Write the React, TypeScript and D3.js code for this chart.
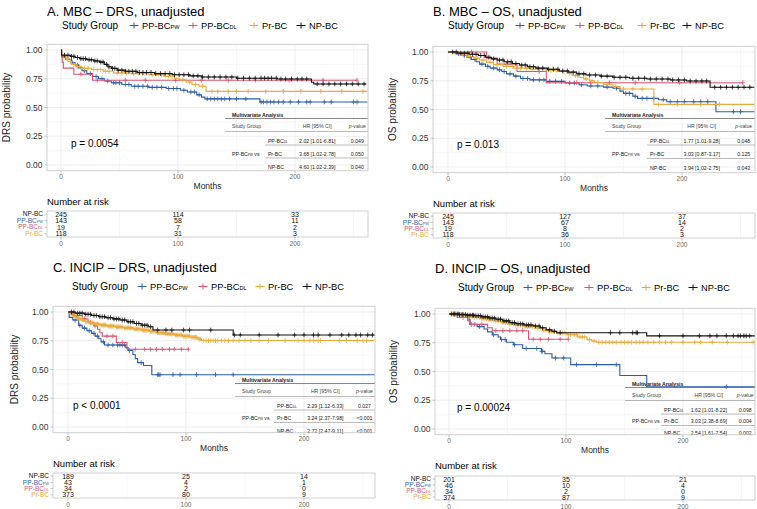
import React from "react";
import * as d3 from "d3";

const FONT = "'Liberation Sans', Arial, Helvetica, sans-serif";

// ---- groups ----
const GROUP_BASE = ["PP-BC", "PP-BC", "Pr-BC", "NP-BC"];
const GROUP_SUB = ["PW", "DL", "", ""];
const GROUP_COLORS = ["#2b5ca8", "#d9536f", "#e9a93c", "#111111"];
const RISK_ORDER = [3, 0, 1, 2];
const LEGEND_TITLE = "Study Group";

const X_TICKS = [0, 100, 200];
const X_MINOR = [50, 150, 250];
const Y_TICKS = [0, 0.25, 0.5, 0.75, 1];
const Y_MINOR = [0.125, 0.375, 0.625, 0.875];

// ---- Panel A: MBC DRS ----
const A_PW_STEPS = [[0,1],[0.5,0.94],[4,0.92],[9,0.89],[12,0.87],[15,0.845],[18,0.82],[22,0.795],[27,0.77],[32,0.75],[37,0.73],[43,0.715],[52,0.70],[60,0.685],[75,0.675],[90,0.665],[102,0.65],[108,0.635],[116,0.61],[120,0.59],[123,0.575],[170,0.548]];
const A_PW_CENS = [10,14,20,25,30,35,40,45,47,50,55,58,63,66,70,74,78,82,86,92,96,99,105,111,114,118,125,128,131,134,137,140,144,150,158,171,173,176,179,182,186,190,196,203,210,213,225,231,250,253];
const A_DL_STEPS = [[0,1],[0.5,0.947],[1,0.895],[2,0.842],[11,0.789],[27,0.737]];
const A_DL_CENS = [17,31,55,72,98,120,143,166,195,224,253];
const A_PR_STEPS = [[0,1],[0.5,0.96],[3,0.93],[6,0.90],[9,0.875],[13,0.855],[18,0.84],[26,0.83],[36,0.815],[45,0.80],[60,0.795],[75,0.785],[88,0.77],[97,0.755],[101,0.74],[107,0.72],[112,0.70],[118,0.685],[124,0.64]];
const A_PR_CENS = [5,8,11,14,16,20,23,28,31,34,38,41,48,52,56,62,66,70,78,83,86,92,95,104,110,115,121,129,134,143,150,160,175,190,205,222,240,258];
const A_NP_STEPS = [[0,1],[0.5,0.955],[8,0.945],[12,0.935],[16,0.925],[22,0.915],[28,0.905],[33,0.895],[37,0.875],[40,0.855],[43,0.84],[48,0.825],[55,0.815],[65,0.805],[80,0.795],[95,0.785],[110,0.775],[120,0.765],[150,0.755],[185,0.748],[214,0.72],[216,0.705]];
const A_NP_CENS = [3,6,9,11,14,17,19,21,24,26,29,31,34,36,39,41,44,46,49,52,55,58,61,64,67,70,73,77,81,85,89,93,97,101,105,109,113,117,121,126,131,136,141,146,151,156,161,166,171,174,177,180,184,188,192,197,202,206,210,219,224,229,234,239,244,249,254,259];
const A_ENDS = [262, 253, 262, 261];
const A_RISK = [[143,58,11],[19,7,2],[118,31,3],[245,114,33]];
const A_HR = ["2.02 [1.01-6.81]", "3.68 [1.02-2.78]", "4.60 [1.02-2.39]"];
const A_HR_P = ["0.049", "0.050", "0.040"];

// ---- Panel B: MBC OS ----
const B_PW_STEPS = [[0,1],[6,0.985],[12,0.97],[16,0.955],[20,0.935],[24,0.915],[27,0.895],[32,0.875],[36,0.86],[42,0.845],[46,0.83],[50,0.81],[56,0.79],[62,0.77],[70,0.758],[84,0.745],[100,0.73],[112,0.715],[119,0.705],[133,0.695],[141,0.685],[147,0.66],[150,0.64],[158,0.615],[162,0.597],[180,0.585],[187,0.568],[229,0.48]];
const B_PW_CENS = [9,14,19,23,29,34,39,44,48,53,58,64,68,73,78,82,87,92,97,104,108,114,122,128,136,144,152,155,160,166,170,176,184,190,196,202,210,216,222,244,250];
const B_DL_STEPS = [[0,1],[33,0.947],[42,0.895],[59,0.83],[84,0.733]];
const B_DL_CENS = [20,50,78,110,122,138,160,198,252];
const B_PR_STEPS = [[0,1],[5,0.99],[10,0.975],[16,0.96],[22,0.945],[27,0.93],[33,0.91],[39,0.89],[47,0.875],[56,0.86],[70,0.85],[84,0.84],[95,0.83],[102,0.815],[106,0.795],[111,0.78],[116,0.765],[121,0.75],[125,0.735],[133,0.715],[141,0.70],[147,0.678],[176,0.545]];
const B_PR_CENS = [8,13,18,25,30,36,42,50,55,62,67,72,78,88,93,99,104,109,118,123,128,136,143,150,158,166,180,196,216,232];
const B_NP_STEPS = [[0,1],[8,0.99],[18,0.98],[26,0.97],[32,0.955],[37,0.94],[42,0.93],[48,0.915],[55,0.90],[61,0.887],[68,0.872],[75,0.86],[85,0.85],[95,0.835],[103,0.825],[110,0.81],[118,0.80],[130,0.79],[141,0.78],[155,0.772],[170,0.765],[190,0.757],[204,0.748],[224,0.693]];
const B_NP_CENS = [4,7,11,14,17,21,24,28,31,35,39,44,47,51,54,58,63,66,70,73,77,81,86,90,94,98,102,107,112,116,121,126,131,136,142,147,152,158,163,168,173,178,183,188,192,197,202,207,212,217,221,228,233,238,243,248,253,258];
const B_ENDS = [262, 252, 262, 262];
const B_RISK = [[143,67,14],[19,8,2],[118,36,3],[245,127,37]];
const B_HR = ["1.77 [1.01-9.28]", "3.03 [0.87-3.17]", "3.94 [1.02-2.75]"];
const B_HR_P = ["0.048", "0.125", "0.043"];

// ---- Panel C: INCIP DRS ----
const C_PW_STEPS = [[0,1],[1,0.953],[4,0.93],[9,0.884],[12,0.86],[16,0.837],[20,0.814],[23,0.79],[26,0.767],[28,0.74],[31,0.713],[49,0.69],[51,0.665],[55,0.63],[57,0.595],[59,0.56],[64,0.535],[71,0.455]];
const C_PW_CENS = [6,10,14,18,22,25,30,34,38,42,44,46,48,52,62,76,77,78,89,95,109,125,140];
const C_DL_STEPS = [[0,1],[4,0.97],[12,0.94],[17,0.91],[22,0.88],[25,0.85],[27,0.82],[29,0.79],[41,0.735],[50,0.676]];
const C_DL_CENS = [14,19,23,33,38,46,57,65,70,75,80,86,90,96,102];
const C_PR_STEPS = [[0,1],[1,0.99],[3,0.975],[5,0.96],[8,0.945],[11,0.93],[14,0.917],[18,0.905],[22,0.895],[27,0.887],[33,0.878],[40,0.87],[47,0.862],[55,0.852],[62,0.842],[69,0.832],[75,0.82],[82,0.81],[90,0.80],[97,0.79],[104,0.78],[110,0.765],[113,0.752]];
const C_PR_CENS = [2,4,6,7,9,10,12,13,15,16,17,19,20,21,23,24,25,26,28,29,30,31,32,34,35,36,37,38,39,41,42,43,44,45,46,48,49,50,51,52,53,54,56,57,58,59,60,61,63,64,65,66,67,68,70,71,72,73,74,76,77,78,79,80,81,83,84,85,86,87,88,89,91,92,93,94,95,96,98,99,100,101,102,103,105,106,107,108,109,111,112,115,117,119,121,123,125,127,130,133,136,140,145,150,155,162,170,184,195,200,205,208,212,214,230,236,245,250,253];
const C_NP_STEPS = [[0,1],[6,0.99],[14,0.98],[20,0.97],[26,0.96],[32,0.95],[38,0.94],[44,0.93],[50,0.915],[56,0.90],[62,0.885],[68,0.872],[72,0.843],[140,0.80]];
const C_NP_CENS = [3,5,8,10,12,15,17,19,22,24,27,29,31,34,36,39,41,43,46,48,51,53,55,58,60,63,65,67,70,76,83,88,98,103,121,141,146,162,178,192,200,208,212,222,232,238,244,248,254,258];
const C_ENDS = [262, 102, 262, 260];
const C_RISK = [[43,4,1],[34,2,0],[373,80,9],[189,25,14]];
const C_HR = ["2.29 [1.12-6.33]", "3.24 [2.37-7.98]", "2.72 [2.47-9.11]"];
const C_HR_P = ["0.027", "<0.001", "<0.001"];

// ---- Panel D: INCIP OS ----
const D_PW_STEPS = [[0,1],[15,0.978],[17,0.955],[18,0.91],[24,0.89],[30,0.87],[33,0.845],[37,0.82],[42,0.80],[44,0.778],[49,0.755],[55,0.733],[63,0.70],[79,0.676],[82,0.655],[88,0.617],[104,0.56],[146,0.465],[169,0.368]];
const D_PW_CENS = [8,19,26,38,45,48,56,66,75,79,80,91,98,109,126,143,237];
const D_DL_STEPS = [[0,1],[7,0.97],[16,0.94],[18,0.91],[33,0.88],[37,0.855],[68,0.78]];
const D_DL_CENS = [5,12,22,28,40,46,52,58,63,72,78,85,95,102];
const D_PR_STEPS = [[0,1],[6,0.995],[12,0.99],[17,0.98],[22,0.97],[27,0.96],[33,0.95],[39,0.94],[45,0.925],[51,0.912],[57,0.9],[65,0.89],[74,0.878],[80,0.86],[85,0.845],[92,0.835],[101,0.82],[110,0.80],[118,0.777],[122,0.765],[126,0.755]];
const D_PR_CENS = [3,5,7,9,10,12,14,15,17,19,20,22,24,26,28,30,32,34,36,38,40,42,44,46,48,50,52,55,57,59,61,63,65,67,69,71,73,76,78,81,83,86,88,90,93,95,97,99,102,104,107,109,112,114,116,120,124,128,131,134,137,140,143,147,150,153,156,160,163,166,170,175,180,185,190,200,210,215,225,238,260];
const D_NP_STEPS = [[0,1],[8,0.995],[15,0.99],[22,0.985],[28,0.975],[34,0.965],[40,0.955],[46,0.94],[52,0.925],[57,0.915],[64,0.905],[72,0.896],[78,0.88],[83,0.862],[88,0.85],[92,0.837],[169,0.81]];
const D_NP_CENS = [2,4,5,7,9,11,12,14,16,18,20,21,23,25,27,29,31,33,35,37,39,42,44,47,49,51,54,56,59,61,63,66,68,70,74,77,80,86,90,95,138,146,157,160,161,180,200,214,223,229,237,243,247,249,252,254,257];
const D_ENDS = [262, 102, 262, 262];
const D_RISK = [[46,10,4],[34,2,0],[374,87,9],[201,35,21]];
const D_HR = ["1.62 [1.01-8.22]", "3.03 [2.38-8.69]", "2.54 [1.61-7.54]"];
const D_HR_P = ["0.098", "0.004", "0.002"];

const PANELS = [
  {
    title: "A. MBC \u2013 DRS, unadjusted", yTitle: "DRS probability", pText: "p = 0.0054",
    steps: [A_PW_STEPS, A_DL_STEPS, A_PR_STEPS, A_NP_STEPS],
    cens: [A_PW_CENS, A_DL_CENS, A_PR_CENS, A_NP_CENS],
    ends: A_ENDS, risk: A_RISK, hr: A_HR, hrp: A_HR_P,
    L: { titleX: 47, titleY: 16, legendX: 62, legendY: 29, legendOff: [72, 131, 192, 239],
      left: 47, right: 368, x0: 61, x100: 178, y1: 50, y0: 165, yTitleX: 10, pX: 71, pY: 147,
      monthsY: 189, riskTitleY: 205, riskTop: 211, riskBottom: 237,
      table: { left: 225, right: 368, top: 115, s: 13 } },
  },
  {
    title: "B. MBC \u2013 OS, unadjusted", yTitle: "OS probability", pText: "p = 0.013",
    steps: [B_PW_STEPS, B_DL_STEPS, B_PR_STEPS, B_NP_STEPS],
    cens: [B_PW_CENS, B_DL_CENS, B_PR_CENS, B_NP_CENS],
    ends: B_ENDS, risk: B_RISK, hr: B_HR, hrp: B_HR_P,
    L: { titleX: 433, titleY: 16, legendX: 448, legendY: 29, legendOff: [72, 132, 194, 239],
      left: 433, right: 755, x0: 448, x100: 565, y1: 52, y0: 167, yTitleX: 396, pX: 457, pY: 148,
      monthsY: 191, riskTitleY: 207, riskTop: 213, riskBottom: 238,
      table: { left: 605, right: 755, top: 115, s: 13.5 } },
  },
  {
    title: "C. INCIP \u2013 DRS, unadjusted", yTitle: "DRS probability", pText: "p < 0.0001",
    steps: [C_PW_STEPS, C_DL_STEPS, C_PR_STEPS, C_NP_STEPS],
    cens: [C_PW_CENS, C_DL_CENS, C_PR_CENS, C_NP_CENS],
    ends: C_ENDS, risk: C_RISK, hr: C_HR, hrp: C_HR_P,
    L: { titleX: 53, titleY: 272, legendX: 72, legendY: 290, legendOff: [70, 131, 188, 235],
      left: 53, right: 375, x0: 68, x100: 186, y1: 312, y0: 427, yTitleX: 18, pX: 73, pY: 409,
      monthsY: 451, riskTitleY: 467, riskTop: 473, riskBottom: 498,
      table: { left: 235, right: 375, top: 380, s: 12.5 } },
  },
  {
    title: "D. INCIP \u2013 OS, unadjusted", yTitle: "OS probability", pText: "p = 0.00024",
    steps: [D_PW_STEPS, D_DL_STEPS, D_PR_STEPS, D_NP_STEPS],
    cens: [D_PW_CENS, D_DL_CENS, D_PR_CENS, D_NP_CENS],
    ends: D_ENDS, risk: D_RISK, hr: D_HR, hrp: D_HR_P,
    L: { titleX: 435, titleY: 273, legendX: 458, legendY: 291, legendOff: [70, 131, 188, 235],
      left: 435, right: 755, x0: 449, x100: 566, y1: 314, y0: 429, yTitleX: 397, pX: 457, pY: 411,
      monthsY: 453, riskTitleY: 469, riskTop: 476, riskBottom: 500,
      table: { left: 625, right: 755, top: 384, s: 11.5 } },
  },
];

function stepVal(steps: number[][], t: number) {
  let s = steps[0][1];
  for (const [tt, ss] of steps) {
    if (tt <= t) s = ss;
    else break;
  }
  return s;
}

function GroupText({ i, x, y, fs, anchor, fill, suffix }: any) {
  return (
    <text x={x} y={y} fontSize={fs} textAnchor={anchor || "start"} fill={fill || "#000"}>
      {GROUP_BASE[i]}
      {GROUP_SUB[i] ? <tspan fontSize={fs * 0.6}>{GROUP_SUB[i]}</tspan> : null}
      {suffix || null}
    </text>
  );
}

function Panel({ p, idx }: any) {
  const L = p.L;
  const x = d3.scaleLinear().domain([0, 100]).range([L.x0, L.x100]);
  const y = d3.scaleLinear().domain([0, 1]).range([L.y0, L.y1]);
  const top = y(1.05);
  const bottom = y(-0.05);
  const clipId = "clip" + idx;
  const line = d3.line<number[]>().x((d) => d[0]).y((d) => d[1]).curve(d3.curveStepAfter);
  const order = [0, 1, 2, 3];
  const T = L.table;
  const tw = T.right - T.left;
  const colLab = T.left + 7;
  const colRow = T.left + 0.3 * tw;
  const colHR = T.left + 0.645 * tw;
  const colP = T.left + 0.925 * tw;
  const tfs = 5.2;
  const rowsY = [0, 1, 2].map((i) => T.top + 25.5 + i * T.s);
  const rh = (L.riskBottom - L.riskTop) / 4;

  return (
    <g fontFamily={FONT}>
      <defs>
        <clipPath id={clipId}>
          <rect x={L.left} y={top} width={L.right - L.left} height={bottom - top} />
        </clipPath>
      </defs>
      {/* title */}
      <text x={L.titleX} y={L.titleY} fontSize={13} fill="#000">{p.title}</text>
      {/* legend */}
      <text x={L.legendX} y={L.legendY} fontSize={10} fill="#000">{LEGEND_TITLE}</text>
      {order.map((i) => {
        const cx = L.legendX + L.legendOff[i];
        const cy = L.legendY - 3.5;
        return (
          <g key={"lg" + i}>
            <line x1={cx - 4.5} x2={cx + 4.5} y1={cy} y2={cy} stroke={GROUP_COLORS[i]} strokeWidth={1} />
            <line x1={cx} x2={cx} y1={cy - 3} y2={cy + 3} stroke={GROUP_COLORS[i]} strokeWidth={1} />
            <GroupText i={i} x={cx + 8} y={L.legendY} fs={9.3} />
          </g>
        );
      })}
      {/* plot background and grid */}
      <rect x={L.left} y={top} width={L.right - L.left} height={bottom - top} fill="#fff" />
      {X_MINOR.map((t) => (
        <line key={"xm" + t} x1={x(t)} x2={x(t)} y1={top} y2={bottom} stroke="#f0f0f0" strokeWidth={0.5} />
      ))}
      {Y_MINOR.map((t) => (
        <line key={"ym" + t} x1={L.left} x2={L.right} y1={y(t)} y2={y(t)} stroke="#f0f0f0" strokeWidth={0.5} />
      ))}
      {X_TICKS.map((t) => (
        <line key={"xg" + t} x1={x(t)} x2={x(t)} y1={top} y2={bottom} stroke="#e6e6e6" strokeWidth={0.7} />
      ))}
      {Y_TICKS.map((t) => (
        <line key={"yg" + t} x1={L.left} x2={L.right} y1={y(t)} y2={y(t)} stroke="#e6e6e6" strokeWidth={0.7} />
      ))}
      {/* multivariate table */}
      <g fill="#222" fontSize={tfs}>
        <text x={colLab} y={T.top + 2} fontWeight="bold">Multivariate Analysis</text>
        <line x1={T.left} x2={T.right} y1={T.top + 3.5} y2={T.top + 3.5} stroke="#555" strokeWidth={0.7} />
        <text x={colLab} y={T.top + 12.5} fill="#444">Study Group</text>
        <text x={colHR} y={T.top + 12.5} textAnchor="middle" fill="#444">HR [95% CI]</text>
        <text x={colP} y={T.top + 12.5} textAnchor="middle" fill="#444">
          <tspan fontStyle="italic">p</tspan>-value
        </text>
        <line x1={T.left} x2={T.right} y1={T.top + 16.5} y2={T.top + 16.5} stroke="#777" strokeWidth={0.5} />
        {[1, 2, 3].map((gi, r) => (
          <g key={"tr" + r}>
            <GroupText i={gi} x={colRow} y={rowsY[r] + 2} fs={tfs} fill="#222" />
            <text x={colHR} y={rowsY[r] + 2} textAnchor="middle">{p.hr[r]}</text>
            <text x={colP} y={rowsY[r] + 2} textAnchor="middle">{p.hrp[r]}</text>
            {r < 2 ? (
              <line x1={colRow - 3} x2={T.right} y1={rowsY[r] + 4.5} y2={rowsY[r] + 4.5} stroke="#777" strokeWidth={0.5} />
            ) : null}
          </g>
        ))}
        <GroupText i={0} x={colLab} y={rowsY[1] + 2} fs={tfs} fill="#222" suffix={"  vs"} />
      </g>
      {/* curves */}
      <g clipPath={`url(#${clipId})`}>
        {order.map((i) => {
          const steps = p.steps[i];
          const pts = steps.map((d: number[]) => [x(d[0]), y(d[1])]);
          pts.push([x(p.ends[i]), y(steps[steps.length - 1][1])]);
          return (
            <g key={"c" + i}>
              <path d={line(pts) || ""} fill="none" stroke={GROUP_COLORS[i]} strokeWidth={1.1} />
              {p.cens[i].map((c: number, k: number) => {
                const cx = x(c);
                const cy = y(stepVal(steps, c));
                return (
                  <g key={k} stroke={GROUP_COLORS[i]} strokeWidth={0.8}>
                    <line x1={cx} x2={cx} y1={cy - 2.4} y2={cy + 2.4} />
                    <line x1={cx - 2} x2={cx + 2} y1={cy} y2={cy} />
                  </g>
                );
              })}
            </g>
          );
        })}
      </g>
      {/* border */}
      <rect x={L.left} y={top} width={L.right - L.left} height={bottom - top} fill="none" stroke="#c4c4c4" strokeWidth={0.8} />
      {/* axes */}
      {Y_TICKS.map((t) => (
        <g key={"yt" + t}>
          <line x1={L.left - 2.5} x2={L.left} y1={y(t)} y2={y(t)} stroke="#999" strokeWidth={0.6} />
          <text x={L.left - 4.5} y={y(t) + 3} fontSize={8.5} textAnchor="end" fill="#333">
            {d3.format(".2f")(t)}
          </text>
        </g>
      ))}
      {X_TICKS.map((t) => (
        <g key={"xt" + t}>
          <line x1={x(t)} x2={x(t)} y1={bottom} y2={bottom + 2.5} stroke="#999" strokeWidth={0.6} />
          <text x={x(t)} y={bottom + 8.5} fontSize={6.5} textAnchor="middle" fill="#666">{t}</text>
        </g>
      ))}
      <text x={(L.left + L.right) / 2} y={L.monthsY} fontSize={8.5} textAnchor="middle" fill="#222">Months</text>
      <text transform={`translate(${L.yTitleX},${(top + bottom) / 2}) rotate(-90)`} fontSize={10} textAnchor="middle" fill="#222">
        {p.yTitle}
      </text>
      <text x={L.pX} y={L.pY} fontSize={10} fill="#000">{p.pText}</text>
      {/* risk table */}
      <text x={L.left} y={L.riskTitleY} fontSize={9.5} fill="#000">Number at risk</text>
      <rect x={L.left} y={L.riskTop} width={L.right - L.left} height={L.riskBottom - L.riskTop} fill="#fff" />
      {X_TICKS.concat(X_MINOR).map((t) => (
        <line key={"rg" + t} x1={x(t)} x2={x(t)} y1={L.riskTop} y2={L.riskBottom} stroke="#f0f0f0" strokeWidth={0.6} />
      ))}
      <rect x={L.left} y={L.riskTop} width={L.right - L.left} height={L.riskBottom - L.riskTop} fill="none" stroke="#c4c4c4" strokeWidth={0.8} />
      {RISK_ORDER.map((gi, r) => {
        const cy = L.riskTop + (r + 0.5) * rh;
        return (
          <g key={"rk" + r}>
            <line x1={L.left - 2.5} x2={L.left} y1={cy} y2={cy} stroke="#999" strokeWidth={0.6} />
            <GroupText i={gi} x={L.left - 4} y={cy + 2.2} fs={6.5} anchor="end" fill={GROUP_COLORS[gi]} />
            {X_TICKS.map((t, k) => (
              <text key={k} x={x(t)} y={cy + 2.5} fontSize={7} textAnchor="middle" fill="#111">
                {p.risk[gi][k]}
              </text>
            ))}
          </g>
        );
      })}
      {X_TICKS.map((t) => (
        <g key={"rx" + t}>
          <line x1={x(t)} x2={x(t)} y1={L.riskBottom} y2={L.riskBottom + 2.5} stroke="#999" strokeWidth={0.6} />
          <text x={x(t)} y={L.riskBottom + 8.5} fontSize={6.5} textAnchor="middle" fill="#666">{t}</text>
        </g>
      ))}
    </g>
  );
}

export default function App() {
  return (
    <svg
      width={757}
      height={509}
      viewBox="0 0 757 509"
      style={{ position: "absolute", left: 0, top: 0, background: "#fff" }}
    >
      <rect x={0} y={0} width={757} height={509} fill="#fff" />
      {PANELS.map((p, i) => (
        <Panel key={i} p={p} idx={i} />
      ))}
    </svg>
  );
}
